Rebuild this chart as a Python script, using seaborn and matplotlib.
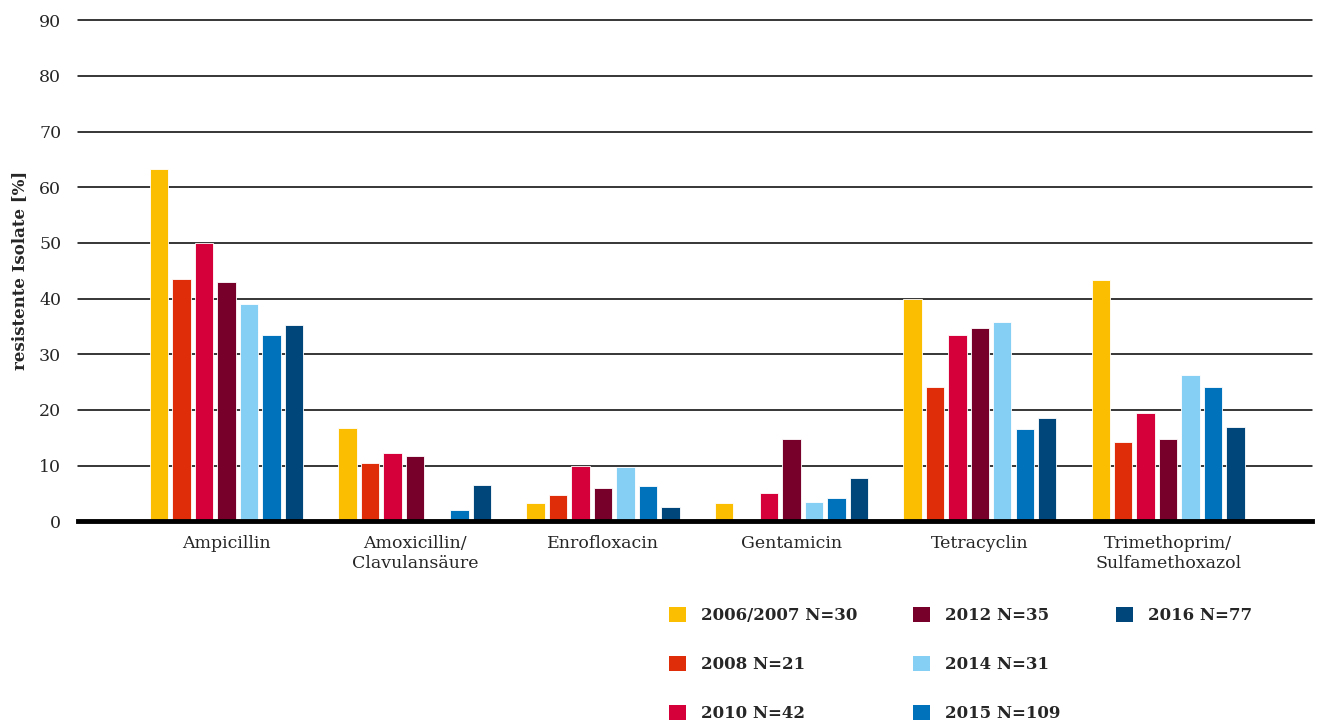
import numpy as np
import pandas as pd
import matplotlib
matplotlib.use("Agg")
import matplotlib.pyplot as plt
import seaborn as sns
from matplotlib.patches import Patch

# values
drugs = ["Ampicillin", "Amoxicillin/\nClavulansäure", "Enrofloxacin", "Gentamicin",
         "Tetracyclin", "Trimethoprim/\nSulfamethoxazol"]
years = ["2006/2007 N=30", "2008 N=21", "2010 N=42", "2012 N=35",
         "2014 N=31", "2015 N=109", "2016 N=77"]
colors = ["#FBBE00", "#DE2D08", "#D5003A", "#76002A", "#86CFF4", "#0072BB", "#00467A"]

v_0607 = [63.3, 16.7, 3.3, 3.3, 40.0, 43.3]
v_2008 = [43.5, 10.4, 4.8, 0.0, 24.2, 14.2]
v_2010 = [50.0, 12.2, 9.9, 5.0, 33.4, 19.4]
v_2012 = [42.9, 11.8, 6.0, 14.7, 34.8, 14.7]
v_2014 = [39.1, 0.0, 9.8, 3.4, 35.8, 26.2]
v_2015 = [33.4, 2.1, 6.4, 4.1, 16.5, 24.2]
v_2016 = [35.2, 6.5, 2.6, 7.8, 18.5, 16.9]

series = [v_0607, v_2008, v_2010, v_2012, v_2014, v_2015, v_2016]
rows = []
for yr, vals in zip(years, series):
    for d, v in zip(drugs, vals):
        rows.append({"drug": d, "year": yr, "pct": v})
df = pd.DataFrame(rows)

sns.set_style("white")
plt.rcParams["font.family"] = ["DejaVu Serif"]

fig = plt.figure(figsize=(13.19, 7.22), dpi=100)
ax = fig.add_axes([0.059, 0.278, 0.936, 0.694])

sns.barplot(data=df, x="drug", y="pct", hue="year", order=drugs, hue_order=years,
            palette=colors, saturation=1, width=0.835, gap=0.18, ax=ax, legend=False,
            edgecolor="white", linewidth=0.6)

ax.set_ylim(0, 90)
ax.set_xlim(-0.789, 5.766)
ax.set_yticks(range(0, 91, 10))
ax.yaxis.grid(True, color="black", linewidth=1.1)
for gl in ax.get_ygridlines():
    gl.set_clip_on(False)
ax.set_axisbelow(True)
for s in ["top", "right", "left"]:
    ax.spines[s].set_visible(False)
ax.spines["bottom"].set_linewidth(3.5)
ax.spines["bottom"].set_color("black")
ax.tick_params(axis="both", length=0, labelsize=12.5, pad=10)
ax.tick_params(axis="y", pad=12)
ax.set_xlabel("")
ax.set_ylabel("resistente Isolate [%]", fontsize=12, fontweight="bold", labelpad=8)

handles = [Patch(facecolor=c, edgecolor="none") for c in colors]
labels = list(years)
# two blank entries so the columns fill 3/3/1 like the original
handles += [Patch(alpha=0), Patch(alpha=0)]
labels += ["", ""]
fig.legend(handles, labels, ncol=3, loc="upper left", bbox_to_anchor=(0.496, 0.180),
           frameon=False, prop={"weight": "bold", "size": 12},
           handlelength=1.0, handleheight=1.0, handletextpad=0.9,
           columnspacing=3.35, labelspacing=1.9)

fig.savefig("out.png", dpi=100)
